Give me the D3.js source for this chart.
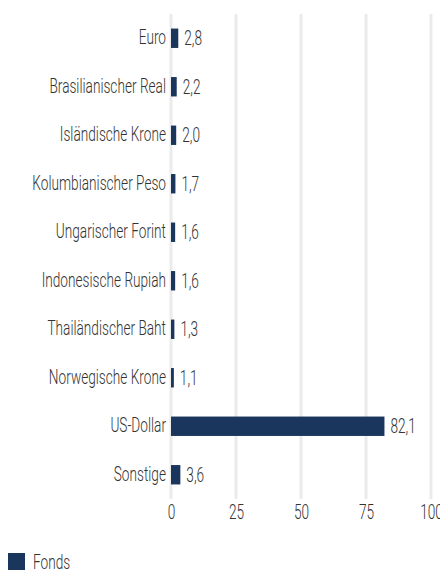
<!DOCTYPE html>
<html>
<head>
<meta charset="utf-8">
<script src="https://cdn.jsdelivr.net/npm/d3@7"></script>
<style>
  body { margin: 0; background: #fff; }
  svg text { font-family: "Roboto", "DejaVu Sans Condensed", sans-serif; font-weight: 300; font-size: 19.5px; fill: #333; }
</style>
</head>
<body>
<div id="chart"></div>
<script>
var categories = ["Euro", "Brasilianischer Real", "Isländische Krone", "Kolumbianischer Peso",
    "Ungarischer Forint", "Indonesische Rupiah", "Thailändischer Baht", "Norwegische Krone",
    "US-Dollar", "Sonstige"];
var values = [2.8, 2.2, 2.0, 1.7, 1.6, 1.6, 1.3, 1.1, 82.1, 3.6];
var tickValues = [0, 25, 50, 75, 100];
var seriesName = "Fonds";

var margin = { top: 14, right: 9, bottom: 73, left: 171 };
var width = 440 - margin.left - margin.right;
var height = 572 - margin.top - margin.bottom;
var barColor = "#1b365d";
var sx = 0.70; // squeeze text horizontally to mimic the condensed face

var svg = d3.select("#chart")
    .append("svg")
    .attr("width", 440)
    .attr("height", 572)
    .append("g")
    .attr("transform", "translate(" + margin.left + "," + margin.top + ")");

var x = d3.scaleLinear().domain([0, 100]).range([0, width]);
var y = d3.scaleBand().domain(categories).range([0, height]).paddingInner(0.6).paddingOuter(0.3);

function squeeze(sel, xPos) {
    sel.attr("transform", "scale(" + sx + ",1)")
        .attr("x", function (d) { return xPos(d) / sx; });
}

// gridlines
svg.selectAll(".grid")
    .data(tickValues)
    .enter().append("line")
    .attr("class", "grid")
    .attr("x1", d => x(d))
    .attr("x2", d => x(d))
    .attr("y1", 0)
    .attr("y2", height)
    .attr("stroke", "#ebebeb")
    .attr("stroke-width", 3);

// x axis labels
var xAxis = svg.append("g")
    .attr("transform", "translate(0," + height + ")")
    .call(d3.axisBottom(x).tickValues(tickValues).tickSize(0).tickPadding(6));
xAxis.select(".domain").remove();
xAxis.attr("font-family", null).attr("font-size", null);
xAxis.selectAll("text").attr("fill", null);
squeeze(xAxis.selectAll("text"), d => 0);

// y axis labels
var yAxis = svg.append("g")
    .call(d3.axisLeft(y).tickSize(0).tickPadding(5));
yAxis.select(".domain").remove();
yAxis.attr("font-family", null).attr("font-size", null);
yAxis.selectAll("text").attr("fill", null);
squeeze(yAxis.selectAll("text"), d => -5);

var data = categories.map((c, i) => ({ name: c, value: values[i] }));

svg.selectAll(".bar")
    .data(data)
    .enter().append("rect")
    .attr("class", "bar")
    .attr("x", x(0))
    .attr("y", d => y(d.name))
    .attr("height", y.bandwidth())
    .attr("width", d => x(d.value) - x(0))
    .attr("fill", barColor);

var barText = svg.selectAll(".bar-text")
    .data(data)
    .enter().append("text")
    .attr("class", "bar-text")
    .attr("y", d => y(d.name) + y.bandwidth() / 2)
    .attr("dy", ".35em")
    .text(d => d3.format(".1f")(d.value).replace(".", ","));
squeeze(barText, d => x(d.value) + 6);

// legend
var legend = d3.select("svg").append("g")
    .attr("transform", "translate(8,553)");
legend.append("rect")
    .attr("width", 17)
    .attr("height", 17)
    .attr("fill", barColor);
var legendText = legend.append("text")
    .attr("y", 9)
    .attr("dy", ".35em")
    .text(seriesName);
squeeze(legendText, d => 25);
</script>
</body>
</html>
